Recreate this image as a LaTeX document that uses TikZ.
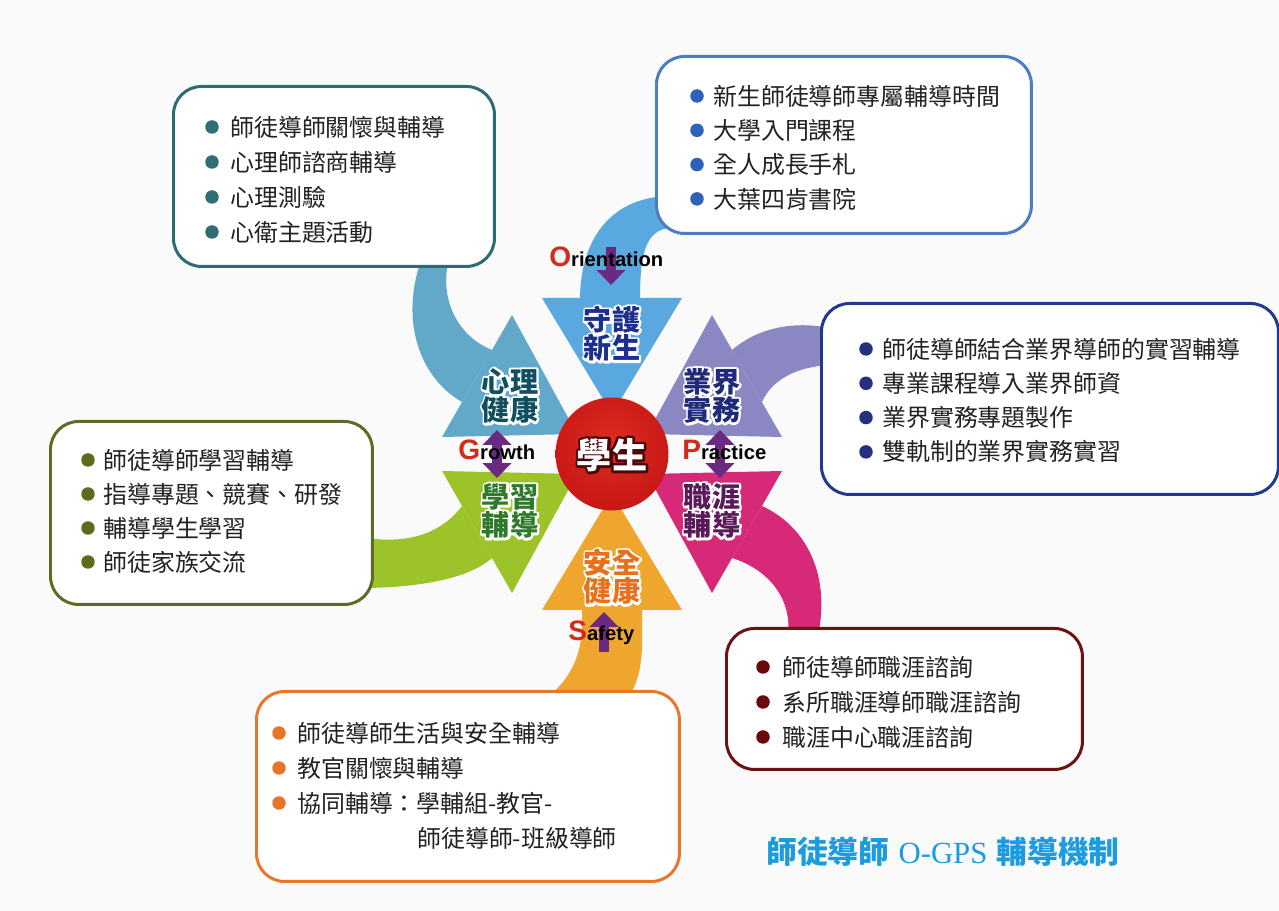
\documentclass[tikz,border=0pt]{standalone}
\usepackage{fontspec}
\usetikzlibrary{calc,arrows.meta}
\newfontfamily\cjk{Noto Sans CJK TC}
\newfontfamily\lsans{Liberation Sans}
\newfontfamily\lserif{Liberation Serif}
\definecolor{bgc}{HTML}{FAFAFA}
\definecolor{cTop}{HTML}{5AA8E0}
\definecolor{cPsy}{HTML}{62A8C8}
\definecolor{cPra}{HTML}{8A87C2}
\definecolor{cCar}{HTML}{D62A78}
\definecolor{cSaf}{HTML}{EFA62E}
\definecolor{cGro}{HTML}{9CC42A}
\definecolor{bPsy}{HTML}{2C6B70}
\definecolor{bOri}{HTML}{4A7DC2}
\definecolor{bPra}{HTML}{22378E}
\definecolor{bGro}{HTML}{5E6B22}
\definecolor{bSaf}{HTML}{E8772C}
\definecolor{bCar}{HTML}{6B1212}
\definecolor{dPsy}{HTML}{2F6E72}
\definecolor{dOri}{HTML}{2E62B8}
\definecolor{dPra}{HTML}{25317F}
\definecolor{dGro}{HTML}{5E6B1C}
\definecolor{dSaf}{HTML}{E8742A}
\definecolor{dCar}{HTML}{6A0A0A}
\definecolor{tOri}{HTML}{1C2F8F}
\definecolor{tPsy}{HTML}{0F4F5F}
\definecolor{tPra}{HTML}{1F2A7A}
\definecolor{tCar}{HTML}{5A1A5A}
\definecolor{tGro}{HTML}{2F7A2A}
\definecolor{tSaf}{HTML}{E8701A}
\definecolor{purp}{HTML}{6B2A82}
\definecolor{lred}{HTML}{D42A1A}
\definecolor{ttlc}{HTML}{1B9BE0}
\definecolor{txt}{HTML}{222222}
\definecolor{stuhalo}{HTML}{4A0808}
\pgfdeclareradialshading{stushade}{\pgfpoint{0bp}{6bp}}{rgb(0bp)=(0.87,0.17,0.13); rgb(30bp)=(0.78,0.09,0.08); rgb(50bp)=(0.58,0.03,0.05); rgb(60bp)=(0.55,0.03,0.05)}
\newcommand\strokemode[1]{\special{pdf:literal direct 1 Tr #1 w 1 j 1 J}}
\newcommand\halolabel[6]{% name, pos, text colour, halo colour, halo width, text
  \node[arrlbl,text=#4] (#1h) at (#2) {\strokemode{#5}#6};
  \node[arrlbl,text=#3] (#1) at (#2) {#6};}
\begin{document}
\begin{tikzpicture}[x=0.02cm,y=-0.02cm,
  box/.style={draw, fill=white, rounded corners=0.56cm, line width=1.7pt, inner sep=0pt, anchor=north west},
  dot/.style={circle, inner sep=0pt, minimum size=0.27cm},
  itm/.style={anchor=west, inner sep=0pt, text=txt, font=\cjk\fontsize{13.6}{16}\selectfont},
  arrlbl/.style={inner sep=0pt, align=center, font=\cjk\bfseries\fontsize{16}{16}\selectfont},
  lat/.style={anchor=base west, inner sep=0pt, font=\lsans\bfseries},
  parrow/.style={draw=purp, line width=5.5pt}
]
\fill[bgc] (0,0) rectangle (1279,911);
\useasboundingbox (0,0) rectangle (1279,911);

% ---------- shafts ----------
\fill[cTop] (580,300) .. controls (580,240) and (610,198) .. (668,196) -- (668,228) .. controls (645,232) and (640,255) .. (640,300) -- cycle;
\fill[cPsy] (462,402) .. controls (420,378) and (398,320) .. (423,255) -- (450,255) .. controls (438,295) and (455,335) .. (492,350) -- cycle;
\fill[cPra] (732,350) .. controls (755,330) and (790,320) .. (830,328) -- (830,365) .. controls (795,367) and (772,380) .. (762,402) -- cycle;
\fill[cCar] (762,506) .. controls (810,528) and (830,580) .. (818,635) -- (788,635) .. controls (792,600) and (770,570) .. (732,558) -- cycle;
\fill[cGro] (462,506) .. controls (440,535) and (405,545) .. (360,537) -- (360,588) .. controls (420,588) and (470,578) .. (492,558) -- cycle;
\fill[cSaf] (582,608) -- (582,630) .. controls (580,660) and (568,680) .. (550,695) -- (630,695) .. controls (645,670) and (642,640) .. (642,608) -- cycle;

% ---------- heads ----------
\fill[cTop] (542,298) -- (682,298) -- (612,414) -- cycle;
\fill[cPra] (712,315) -- (782,437) -- (647,434) -- cycle;
\fill[cCar] (782,471) -- (712,593) -- (647,474) -- cycle;
\fill[cSaf] (542,610) -- (682,610) -- (612,494) -- cycle;
\fill[cGro] (442,471) -- (512,593) -- (577,474) -- cycle;
\fill[cPsy] (512,315) -- (442,437) -- (577,434) -- cycle;

% ---------- boxes ----------
\node[box, draw=bPsy, minimum width=6.42cm, minimum height=3.6cm] (boxPsy) at (172,85) {};
\node[box, draw=bOri, minimum width=7.5cm, minimum height=3.54cm] (boxOri) at (655,55) {};
\node[box, draw=bPra, minimum width=9.14cm, minimum height=3.82cm] (boxPra) at (820,302) {};
\node[box, draw=bGro, minimum width=6.44cm, minimum height=3.66cm] (boxGro) at (49,420) {};
\node[box, draw=bSaf, minimum width=8.46cm, minimum height=3.8cm] (boxSaf) at (255,690) {};
\node[box, draw=bCar, minimum width=7.12cm, minimum height=2.82cm] (boxCar) at (725,627) {};

% ---------- box texts ----------
\foreach \t [count=\i] in {師徒導師關懷與輔導,心理師諮商輔導,心理測驗,心衛主題活動}{
  \node[dot, fill=dPsy] (psyD\i) at (212,{127+35*(\i-1)}) {};
  \node[itm] (psyT\i) at (230,{127+35*(\i-1)}) {\t};}
\foreach \t [count=\i] in {新生師徒導師專屬輔導時間,大學入門課程,全人成長手札,大葉四肯書院}{
  \node[dot, fill=dOri] (oriD\i) at (697,{96+34.3*(\i-1)}) {};
  \node[itm] (oriT\i) at (713,{96+34.3*(\i-1)}) {\t};}
\foreach \t [count=\i] in {師徒導師結合業界導師的實習輔導,專業課程導入業界師資,業界實務專題製作,雙軌制的業界實務實習}{
  \node[dot, fill=dPra] (praD\i) at (866,{349+34.3*(\i-1)}) {};
  \node[itm] (praT\i) at (882,{349+34.3*(\i-1)}) {\t};}
\foreach \t [count=\i] in {師徒導師學習輔導,指導專題、競賽、研發,輔導學生學習,師徒家族交流}{
  \node[dot, fill=dGro] (groD\i) at (88,{460+34*(\i-1)}) {};
  \node[itm] (groT\i) at (103,{460+34*(\i-1)}) {\t};}
\foreach \t [count=\i] in {師徒導師生活與安全輔導,教官關懷與輔導,協同輔導：學輔組-教官-}{
  \node[dot, fill=dSaf] (safD\i) at (279,{733+35*(\i-1)}) {};
  \node[itm] (safT\i) at (297,{733+35*(\i-1)}) {\t};}
\node[itm] (safT4) at (417,838) {師徒導師-班級導師};
\foreach \t [count=\i] in {師徒導師職涯諮詢,系所職涯導師職涯諮詢,職涯中心職涯諮詢}{
  \node[dot, fill=dCar] (carD\i) at (763,{667+35*(\i-1)}) {};
  \node[itm] (carT\i) at (782,{667+35*(\i-1)}) {\t};}

% ---------- purple arrows ----------
\coordinate (oA) at (611,247); \coordinate (oB) at (611,285);
\coordinate (gA) at (497,430); \coordinate (gB) at (497,478);
\coordinate (pA) at (720,430); \coordinate (pB) at (720,478);
\coordinate (sA) at (604,652); \coordinate (sB) at (604,612);
\draw[parrow, -{Triangle[width=16pt,length=8.5pt]}] (oA) -- (oB);
\draw[parrow, {Triangle[width=16pt,length=8.5pt]}-{Triangle[width=16pt,length=8.5pt]}] (gA) -- (gB);
\draw[parrow, {Triangle[width=16pt,length=8.5pt]}-{Triangle[width=16pt,length=8.5pt]}] (pA) -- (pB);
\draw[parrow, -{Triangle[width=16pt,length=8.5pt]}] (sA) -- (sB);

% ---------- letters ----------
\node[lat] (lblO) at (549,267) {{\fontsize{16}{16}\selectfont\color{lred}O}{\fontsize{11.5}{12}\selectfont rientation}};
\node[lat] (lblG) at (458,460) {{\fontsize{16}{16}\selectfont\color{lred}G}{\fontsize{11.5}{12}\selectfont rowth}};
\node[lat] (lblP) at (682,460) {{\fontsize{16}{16}\selectfont\color{lred}P}{\fontsize{11.5}{12}\selectfont ractice}};
\node[lat] (lblS) at (568,641) {{\fontsize{16}{16}\selectfont\color{lred}S}{\fontsize{11.5}{12}\selectfont afety}};

% ---------- arrow labels ----------
\halolabel{aOri}{612,334}{tOri}{white}{2.6}{守護\\新生}
\halolabel{aPsy}{510,396}{tPsy}{white}{2.6}{心理\\健康}
\halolabel{aPra}{712,396}{tPra}{white}{2.6}{業界\\實務}
\halolabel{aGro}{510,511}{tGro}{white}{2.6}{學習\\輔導}
\halolabel{aCar}{712,511}{tCar}{white}{2.6}{職涯\\輔導}
\halolabel{aSaf}{612,577}{tSaf}{white}{2.6}{安全\\健康}

% ---------- centre ----------
\node[circle, shading=stushade, minimum size=2.26cm, inner sep=0pt] (stu) at (612,454) {};
\node[inner sep=0pt, text=stuhalo, font=\cjk\bfseries\fontsize{20}{20}\selectfont] (stuH) at (612,455) {\strokemode{3}學生};
\node[inner sep=0pt, text=white, font=\cjk\bfseries\fontsize{20}{20}\selectfont] (stuT) at (612,455) {學生};

% ---------- title ----------
\node[inner sep=0pt, text=ttlc, font=\fontsize{17.5}{18}\selectfont] (ttl) at (943,852) {{\cjk\bfseries 師徒導師} {\lserif O-GPS} {\cjk\bfseries 輔導機制}};
\end{tikzpicture}
\end{document}
